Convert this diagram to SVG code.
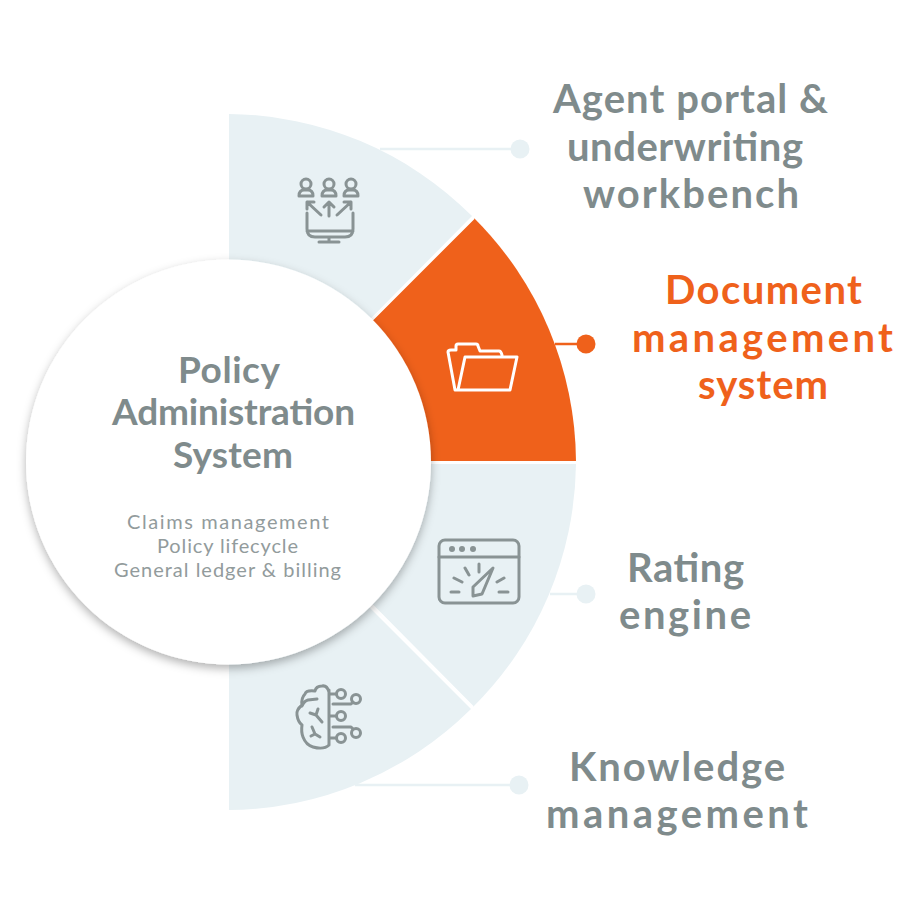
<svg xmlns="http://www.w3.org/2000/svg" width="920" height="920" viewBox="0 0 920 920">
<defs>
<filter id="sh" x="-20%" y="-20%" width="140%" height="140%"><feDropShadow dx="0" dy="4" stdDeviation="5" flood-color="#000" flood-opacity="0.3"/></filter>
</defs>
<style>
.w{fill:#e8f1f4}
.o{fill:#ef611b}
.ic{fill:none;stroke:#899394;stroke-width:3;stroke-linecap:round;stroke-linejoin:round}
.icw{fill:none;stroke:#fff;stroke-width:3;stroke-linecap:round;stroke-linejoin:round}
.t{font-family:"Lato","Liberation Sans",sans-serif;font-weight:700;font-size:40px;fill:#7f8b8c;text-anchor:middle}
.to{fill:#ef611b}
.c{font-size:37px}
.s{font-family:"Lato","Liberation Sans",sans-serif;font-weight:400;font-size:20px;fill:#929b9c;text-anchor:middle}
.lc{stroke:#e8f1f4;stroke-width:2.5;fill:none}
.lo{stroke:#ef611b;stroke-width:2.5;fill:none}
</style>
<g id="connectors">
<path class="lc" d="M380 149H520"/><circle class="w" cx="520" cy="149" r="9.500"/>
<path class="lo" d="M555 344H586"/><circle class="o" cx="586" cy="344" r="9.500"/>
<path class="lc" d="M550 594H586"/><circle class="w" cx="586" cy="594" r="9.500"/>
<path class="lc" d="M355 785H519"/><circle class="w" cx="519" cy="785" r="9.500"/>
</g>
<g id="node-agent">
<path class="w" d="M229 114A348 348 0 0 1 472 216L229 462Z"/>
<path class="ic" d="M307 213V229Q307 237 315 237H345Q353 237 353 229V213M307 231H353M329 237V242M319 242H339"/>
<path class="ic" d="M329 216V202M324 207L329 202L334 207M321 215L307 202M307 209V202H314M337 215L351 202M344 202H351V209"/>
<g class="ic"><circle cx="306" cy="184" r="5"/><path d="M299 196Q299 190 304 190H308Q313 190 313 196Z"/><circle cx="329" cy="184" r="5"/><path d="M322 196Q322 190 327 190H331Q336 190 336 196Z"/><circle cx="351" cy="184" r="5"/><path d="M344 196Q344 190 349 190H353Q358 190 358 196Z"/></g>
<text class="t" x="690.500" y="113" textLength="275">Agent portal &amp;</text>
<text class="t" x="685" y="161" textLength="236">underwriting</text>
<text class="t" x="691" y="208" textLength="216">workbench</text>
</g>
<g id="node-document">
<path class="o" d="M474 218A346 346 0 0 1 576 461H229Z"/>
<path class="icw" d="M458 390H510L517 357H465L458 390H455L448 352Q448 350 451 350H456V346Q456 344 458 344H476Q478 344 478 346L480 351H499Q501 351 502 355"/>
<text class="t to" x="763.500" y="304" textLength="197">Document</text>
<text class="t to" x="762.500" y="352" textLength="261">management</text>
<text class="t to" x="763" y="399" textLength="130">system</text>
</g>
<g id="node-rating">
<path class="w" d="M229 464H576A348 348 0 0 1 473 707Z"/>
<g class="ic"><rect x="439" y="540" width="80" height="63" rx="6"/><path d="M439 557H519M451 592H459M499 592H508M454 578L462 582M497 582L504 578M465 568L469 575M479 564V572"/><path d="M493 568L482 594L473 596V587Z"/></g>
<g fill="#899394"><circle cx="452" cy="549" r="3"/><circle cx="462" cy="549" r="3"/><circle cx="473" cy="549" r="3"/></g>
<text class="t" x="685.500" y="582" textLength="117">Rating</text>
<text class="t" x="685" y="629" textLength="132">engine</text>
</g>
<g id="node-knowledge">
<path class="w" d="M229 810A348 348 0 0 0 471 709L229 467Z"/>
<g class="ic"><path d="M329 690V745M329 692Q327 685 322 686Q316 686 315 691Q306 690 305 694Q301 698 302 705Q296 710 297 715Q298 722 302 725Q301 732 303 737Q306 745 313 747Q324 750 329 745"/><path d="M302 706Q304 701 308 700L317 699M318 709L316 715L322 722M310 713L316 715M312 727L315 734L320 737M315 734L311 736"/><circle cx="341" cy="694" r="4.500"/><circle cx="341" cy="716" r="4.500"/><circle cx="341" cy="738" r="4.500"/><circle cx="356" cy="699" r="4.500"/><circle cx="356" cy="733" r="4.500"/><path d="M330 694H336M330 716H336M330 738H336M333 704H351L353 702M333 727H351L353 729"/></g>
<text class="t" x="677" y="781" textLength="216">Knowledge</text>
<text class="t" x="677" y="828" textLength="262">management</text>
</g>
<path d="M372 320L474 218M372 605L473 707M429 462.500H576" stroke="#fff" stroke-width="2" fill="none"/>
<g id="node-center">
<circle cx="228.500" cy="462" r="202.500" fill="#fff" filter="url(#sh)"/>
<text class="t c" x="229" y="383" textLength="102">Policy</text>
<text class="t c" x="233.500" y="425" textLength="243">Administration</text>
<text class="t c" x="233" y="468" textLength="120">System</text>
<text class="s" x="228" y="529" textLength="202">Claims management</text>
<text class="s" x="227.500" y="553" textLength="141">Policy lifecycle</text>
<text class="s" x="227.500" y="577" textLength="227">General ledger &amp; billing</text>
</g>
</svg>
